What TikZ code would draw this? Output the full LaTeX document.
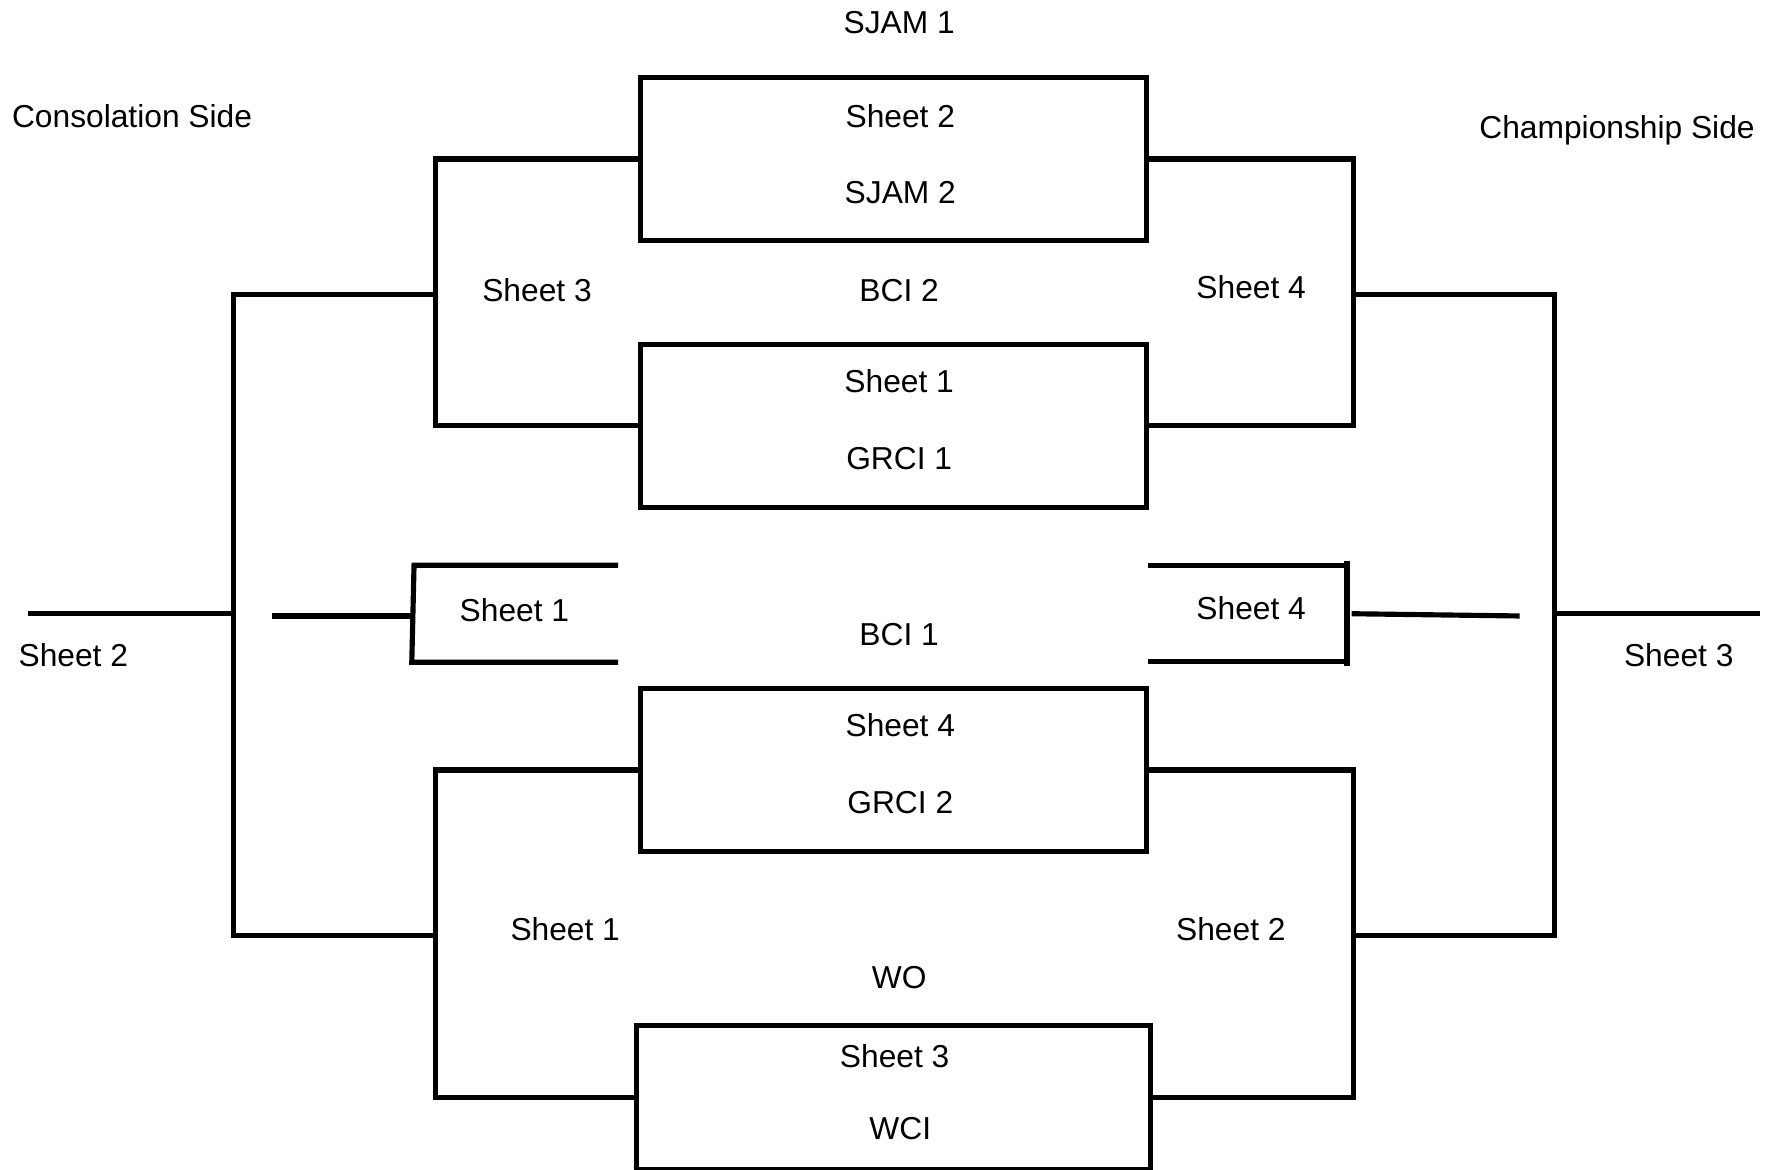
\documentclass[tikz,border=0pt]{standalone}
\usepackage{fontspec}
\setmainfont{Liberation Sans}
\begin{document}
\begin{tikzpicture}[x=0.01cm,y=-0.01cm,
  ln/.style={line width=1.3pt},
  gamebox/.style={draw,line width=1.3pt,rectangle,minimum width=4.48cm,minimum height=1.44cm,inner sep=0pt},
  lbl/.style={font=\fontsize{8}{9.5}\selectfont,inner sep=0pt,text height=5.7pt,text depth=0pt}]
\useasboundingbox (0,0) rectangle (1568,1037);
% boxes
\node[gamebox] (b1) at (792,141) {};
\node[gamebox] (b2) at (792,377.5) {};
\node[gamebox] (b3) at (792,682.5) {};
\node[gamebox,minimum width=4.56cm,minimum height=1.28cm] (b4) at (792,973) {};
% texts
\node[lbl] (sjam1) at (797,20) {SJAM 1};
\node[lbl,anchor=west] (cons) at (10,103) {Consolation Side};
\node[lbl,anchor=east] (champ) at (1556,113) {Championship Side};
\node[lbl] (b1a) at (798,103) {Sheet 2};
\node[lbl] (b1b) at (798,170) {SJAM 2};
\node[lbl] (bci2) at (797,257) {BCI 2};
\node[lbl] (s3a) at (476,257) {Sheet 3};
\node[lbl] (s4a) at (1109,255) {Sheet 4};
\node[lbl] (b2a) at (797,338) {Sheet 1};
\node[lbl] (b2b) at (797,406) {GRCI 1};
\node[lbl] (s1a) at (456,541) {Sheet 1};
\node[lbl] (s4b) at (1109,539) {Sheet 4};
\node[lbl] (bci1) at (797,562) {BCI 1};
\node[lbl] (s2L) at (65,581) {Sheet 2};
\node[lbl] (s3R) at (1488,581) {Sheet 3};
\node[lbl] (b3a) at (798,643) {Sheet 4};
\node[lbl] (b3b) at (798,711) {GRCI 2};
\node[lbl] (s1b) at (501,824) {Sheet 1};
\node[lbl] (s2b) at (1091,824) {Sheet 2};
\node[lbl] (wo) at (797,866) {WO};
\node[lbl] (b4a) at (793,936) {Sheet 3};
\node[lbl] (b4b) at (798,1000) {WCI};
% coordinates
\coordinate (jLt) at (386,261);
\coordinate (oLt) at (207,261);
\coordinate (oLb) at (207,829);
\coordinate (jLb) at (386,829);
\coordinate (oLm) at (207,544);
\coordinate (fL) at (25,544);
\coordinate (jRt) at (1200,261);
\coordinate (oRt) at (1378,261);
\coordinate (oRb) at (1378,829);
\coordinate (jRb) at (1200,829);
\coordinate (oRm) at (1378,544);
\coordinate (fR) at (1560,544);
% top brackets
\draw[ln] (b1.west) -- (386,141) -- (386,377.5) -- (b2.west);
\draw[ln] (b1.east) -- (1200,141) -- (1200,377.5) -- (b2.east);
% bottom brackets
\draw[ln] (b3.west) -- (386,682.5) -- (386,973) -- (b4.west);
\draw[ln] (b3.east) -- (1200,682.5) -- (1200,973) -- (b4.east);
% outer left
\draw[ln] (jLt) -- (oLt) -- (oLb) -- (jLb);
\draw[ln] (fL) -- (oLm);
% outer right
\draw[ln] (jRt) -- (oRt) -- (oRb) -- (jRb);
\draw[ln] (oRm) -- (fR);
% middle left
\draw[ln] (241,546) -- (368,546);
\draw[ln] (548,501) -- (367,501) -- (365,587) -- (548,587);
% middle right
\draw[ln] (1018,501) -- (1196,501);
\draw[ln] (1018,586) -- (1196,586);
\draw[ln] (1194,497) -- (1194,590);
\draw[ln] (1198,544) -- (1347,546);
\end{tikzpicture}
\end{document}
